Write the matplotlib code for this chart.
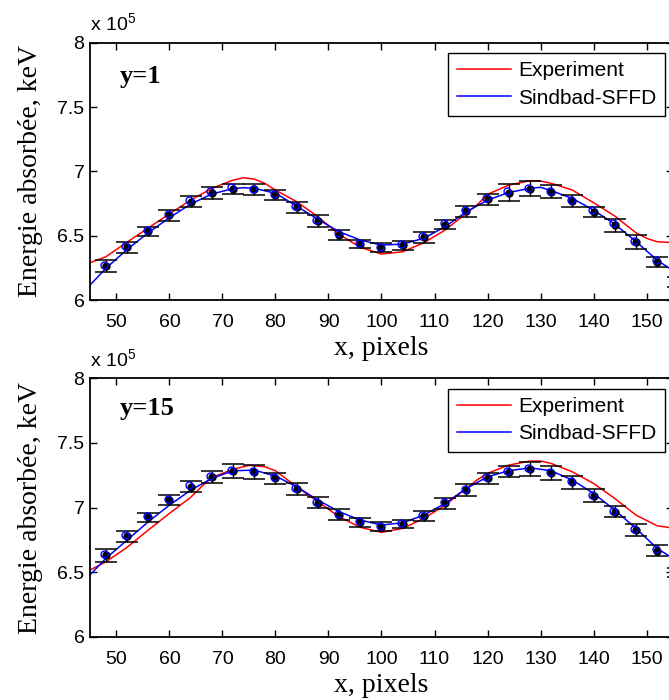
import matplotlib
matplotlib.use('Agg')
import matplotlib.pyplot as plt

# Font setup (Arial-like ticks, Times-like axis labels)
plt.rcParams['font.family'] = ['Liberation Sans', 'DejaVu Sans']
plt.rcParams['mathtext.fontset'] = 'custom'
plt.rcParams['mathtext.rm'] = 'Liberation Sans'
serif = ['Liberation Serif', 'DejaVu Serif']

# Measurement points (x, pixels)
x_pts = [48, 52, 56, 60, 64, 68, 72, 76, 80, 84, 88, 92, 96, 100, 104,
         108, 112, 116, 120, 124, 128, 132, 136, 140, 144, 148, 152, 156]

# ---- y=1 ----  (values in units of 1e5 keV)
dots_y1 = [6.264, 6.409, 6.536, 6.658, 6.764, 6.834, 6.865, 6.860, 6.816, 6.720,
           6.614, 6.507, 6.435, 6.406, 6.424, 6.487, 6.585, 6.689, 6.782, 6.834,
           6.865, 6.842, 6.769, 6.686, 6.582, 6.450, 6.295, 6.140]
err_y1 = [0.047, 0.041, 0.035, 0.041, 0.043, 0.048, 0.039, 0.044, 0.041, 0.040,
          0.044, 0.038, 0.032, 0.035, 0.032, 0.040, 0.036, 0.043, 0.041, 0.067,
          0.057, 0.052, 0.048, 0.039, 0.050, 0.052, 0.041, 0.040]
circ_y1 = [6.275, 6.420, 6.545, 6.668, 6.775, 6.845, 6.875, 6.865, 6.825, 6.730,
           6.625, 6.520, 6.445, 6.415, 6.432, 6.497, 6.595, 6.700, 6.790, 6.845,
           6.872, 6.850, 6.780, 6.697, 6.595, 6.462, 6.310, 6.150]

exp_x_y1 = [45, 48, 52, 56, 60, 64, 68, 72, 74, 76, 78, 80, 84, 88, 92, 96, 100, 104,
            108, 112, 116, 118, 120, 124, 128, 130, 132, 136, 140, 144, 148, 150,
            152, 154, 156]
exp_v_y1 = [6.290, 6.336, 6.450, 6.560, 6.670, 6.777, 6.868, 6.932, 6.950, 6.940,
            6.906, 6.855, 6.764, 6.647, 6.510, 6.410, 6.357, 6.375, 6.445, 6.544,
            6.673, 6.738, 6.821, 6.893, 6.927, 6.925, 6.907, 6.855, 6.757, 6.653,
            6.523, 6.480, 6.453, 6.448, 6.445]

sim_x_y1 = [45, 48, 52, 56, 60, 64, 68, 72, 74, 76, 80, 84, 88, 92, 96, 100, 104,
            108, 112, 116, 120, 124, 128, 130, 132, 136, 140, 144, 148, 152, 156]
sim_v_y1 = [6.116, 6.246, 6.393, 6.523, 6.640, 6.746, 6.824, 6.866, 6.873, 6.868,
            6.830, 6.730, 6.627, 6.531, 6.466, 6.427, 6.435, 6.480, 6.570, 6.686,
            6.776, 6.836, 6.868, 6.876, 6.850, 6.790, 6.699, 6.590, 6.455, 6.310,
            6.200]

# ---- y=15 ----
dots_y15 = [6.630, 6.777, 6.924, 7.057, 7.163, 7.238, 7.282, 7.277, 7.226, 7.143,
            7.037, 6.944, 6.885, 6.851, 6.870, 6.934, 7.032, 7.135, 7.226, 7.277,
            7.298, 7.270, 7.195, 7.092, 6.968, 6.826, 6.666, 6.497]
err_y15 = [0.048, 0.040, 0.032, 0.037, 0.041, 0.045, 0.053, 0.052, 0.045, 0.046,
           0.041, 0.043, 0.037, 0.036, 0.031, 0.037, 0.044, 0.048, 0.043, 0.044,
           0.052, 0.055, 0.052, 0.048, 0.043, 0.043, 0.043, 0.035]
circ_y15 = [6.640, 6.790, 6.934, 7.068, 7.174, 7.248, 7.290, 7.285, 7.235, 7.152,
            7.046, 6.953, 6.894, 6.860, 6.879, 6.944, 7.042, 7.145, 7.235, 7.286,
            7.306, 7.278, 7.204, 7.101, 6.977, 6.835, 6.676, 6.507]

exp_x_y15 = [45, 48, 52, 56, 60, 64, 66, 68, 72, 75, 78, 80, 84, 88, 92, 96, 100,
             104, 108, 112, 116, 118, 120, 124, 128, 130, 132, 136, 140, 144, 148,
             152, 156]
exp_v_y15 = [6.516, 6.580, 6.692, 6.826, 6.955, 7.079, 7.160, 7.234, 7.296, 7.327,
             7.316, 7.285, 7.161, 7.045, 6.929, 6.847, 6.808, 6.839, 6.916, 7.019,
             7.148, 7.213, 7.265, 7.329, 7.360, 7.360, 7.342, 7.277, 7.187, 7.071,
             6.942, 6.859, 6.835]

sim_x_y15 = [45, 48, 52, 56, 60, 64, 68, 72, 76, 80, 84, 88, 92, 96, 100, 104, 108,
             112, 116, 120, 124, 128, 132, 136, 140, 144, 148, 152, 156]
sim_v_y15 = [6.478, 6.607, 6.748, 6.890, 7.019, 7.135, 7.226, 7.285, 7.290, 7.244,
             7.161, 7.058, 6.968, 6.903, 6.865, 6.882, 6.942, 7.032, 7.148, 7.238,
             7.285, 7.308, 7.285, 7.213, 7.110, 6.981, 6.839, 6.684, 6.580]

y_ticks = [6, 6.5, 7, 7.5, 8]
y_tick_labels = ['6', '6.5', '7', '7.5', '8']
x_ticks = [50, 60, 70, 80, 90, 100, 110, 120, 130, 140, 150]

fig = plt.figure(figsize=(6.69, 7.0), dpi=100)

# Axes extend slightly past the right edge (as in the cropped original)
ax_top = fig.add_axes([0.1345, 0.5714, 0.8715, 0.3676])
ax_bot = fig.add_axes([0.1345, 0.0904, 0.8715, 0.3690])

panels = [
    (ax_top, 'y=1', dots_y1, err_y1, circ_y1, exp_x_y1, exp_v_y1, sim_x_y1, sim_v_y1, 0.843),
    (ax_bot, 'y=15', dots_y15, err_y15, circ_y15, exp_x_y15, exp_v_y15, sim_x_y15, sim_v_y15, 0.858),
]

for ax, tag, dots, err, circ, ex, ev, sx, sv, tag_y in panels:
    ax.plot(ex, ev, color='#ff0000', lw=1.1, label='Experiment')
    ax.plot(sx, sv, color='#0000ff', lw=1.1, label='Sindbad-SFFD')
    ax.errorbar(x_pts, dots, yerr=err, fmt='o', color='black', ms=5, lw=1.0,
                capsize=7.8, capthick=1.1, zorder=3)
    ax.plot([x - 0.3 for x in x_pts], circ, 'o', mfc='none', mec='#0000ff',
            ms=5, mew=1.0, zorder=4)

    ax.set_xlim(45, 155)
    ax.set_ylim(6, 8)
    ax.set_xticks(x_ticks)
    ax.set_yticks(y_ticks)
    ax.set_yticklabels(y_tick_labels)
    ax.tick_params(direction='in', length=5, width=1.0, labelsize=14,
                   top=True, right=True)
    ax.tick_params(axis='x', pad=10)
    ax.tick_params(axis='y', pad=4)
    for sp in ax.spines.values():
        sp.set_linewidth(1.3)

    ax.set_xlabel('x, pixels', family=serif, fontsize=20, labelpad=4)
    ax.set_ylabel('Energie absorbée, keV', family=serif, fontsize=20, labelpad=10)
    ax.text(0.051, tag_y, tag, transform=ax.transAxes, family=serif,
            fontweight='bold', fontsize=19)
    ax.text(0.0, 1.03, r'x 10$^5$', transform=ax.transAxes, fontsize=14,
            va='bottom', ha='left')

    leg = ax.legend(loc='upper right', bbox_to_anchor=(0.986, 0.96), fontsize=15,
                    fancybox=False, framealpha=1, edgecolor='black',
                    handlelength=2.6, borderpad=0.4, labelspacing=0.4,
                    handletextpad=0.35, borderaxespad=0)
    leg.get_frame().set_linewidth(1.0)

fig.savefig('out.png', dpi=100)
